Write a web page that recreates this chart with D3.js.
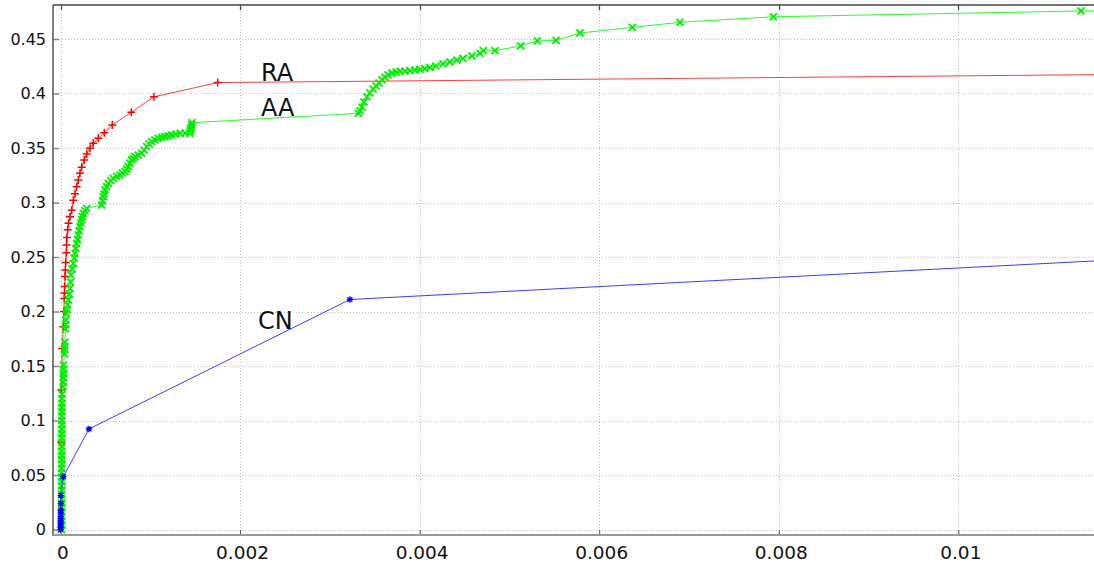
<!DOCTYPE html>
<html>
<head>
<meta charset="utf-8">
<script src="https://cdn.jsdelivr.net/npm/d3@7"></script>
<style>
  html, body { margin: 0; padding: 0; background: #fff; overflow: hidden; }
  text { font-family: "DejaVu Sans", sans-serif; }
</style>
</head>
<body>
<svg id="chart" width="1094" height="566"></svg>
<script>
// Tick values and their printed labels
const xTicks = [0, 0.002, 0.004, 0.006, 0.008, 0.01];
const xTickLabels = ["0", "0.002", "0.004", "0.006", "0.008", "0.01"];
const yTicks = [0, 0.05, 0.1, 0.15, 0.2, 0.25, 0.3, 0.35, 0.4, 0.45];
const yTickLabels = ["0", "0.05", "0.1", "0.15", "0.2", "0.25", "0.3", "0.35", "0.4", "0.45"];

// Series names
const seriesNames = ["RA", "AA", "CN"];

// RA curve: [x, y]
const raPoints = [
  [0.000006, 0.080], [0.000008, 0.128], [0.000020, 0.166], [0.000031, 0.186],
  [0.000039, 0.200], [0.000042, 0.212], [0.000044, 0.217], [0.000047, 0.223],
  [0.000050, 0.232], [0.000054, 0.238], [0.000058, 0.245], [0.000065, 0.254],
  [0.000068, 0.261], [0.000072, 0.268], [0.000080, 0.275], [0.000089, 0.281],
  [0.000106, 0.287], [0.000125, 0.293], [0.000143, 0.302], [0.000162, 0.308],
  [0.000180, 0.3145], [0.000198, 0.3206], [0.000217, 0.3268], [0.000236, 0.3323],
  [0.000265, 0.339], [0.000292, 0.3445], [0.000329, 0.3497], [0.000365, 0.3543],
  [0.000421, 0.3589], [0.000488, 0.364], [0.000577, 0.371], [0.000789, 0.3828],
  [0.001041, 0.397], [0.001751, 0.410], [0.0118, 0.4175]
];

// AA curve: [x, y]
const aaPoints = [
  [0.000012, 0.000], [0.000014, 0.004], [0.000011, 0.008], [0.000013, 0.012],
  [0.000015, 0.016], [0.000012, 0.020], [0.000014, 0.024], [0.000013, 0.028],
  [0.000011, 0.032], [0.000014, 0.036], [0.000012, 0.040], [0.000015, 0.044],
  [0.000013, 0.048], [0.000014, 0.052], [0.000012, 0.056], [0.000015, 0.060],
  [0.000013, 0.064], [0.000014, 0.068], [0.000012, 0.072], [0.000015, 0.076],
  [0.000014, 0.080], [0.000013, 0.084], [0.000015, 0.088], [0.000014, 0.092],
  [0.000016, 0.096], [0.000014, 0.100], [0.000015, 0.104], [0.000016, 0.108],
  [0.000015, 0.112], [0.000017, 0.116], [0.000016, 0.120], [0.000017, 0.124],
  [0.000030, 0.131], [0.000031, 0.135], [0.000033, 0.139], [0.000032, 0.143],
  [0.000034, 0.147], [0.000033, 0.151],
  [0.000044, 0.161], [0.000046, 0.165], [0.000047, 0.168], [0.000049, 0.172],
  [0.000056, 0.184], [0.000058, 0.188], [0.000060, 0.192],
  [0.000066, 0.198], [0.000072, 0.202], [0.000080, 0.206], [0.000087, 0.2106],
  [0.000097, 0.216], [0.000106, 0.2213], [0.000112, 0.227], [0.000117, 0.2335],
  [0.000130, 0.239], [0.000143, 0.2442], [0.000153, 0.249], [0.000162, 0.2534],
  [0.000171, 0.258], [0.000180, 0.2626], [0.000189, 0.266], [0.000198, 0.2702],
  [0.000208, 0.274], [0.000217, 0.2778], [0.000227, 0.281], [0.000236, 0.284],
  [0.000245, 0.287], [0.000254, 0.2901], [0.000272, 0.2925], [0.000292, 0.2947],
  [0.000459, 0.2977], [0.000468, 0.3015], [0.000477, 0.3053], [0.000486, 0.308],
  [0.000496, 0.3115], [0.000514, 0.3145], [0.000532, 0.3176], [0.000560, 0.320],
  [0.000588, 0.3222], [0.000625, 0.324], [0.000663, 0.3252], [0.000690, 0.327],
  [0.000718, 0.3283], [0.000737, 0.3305], [0.000755, 0.3328], [0.000774, 0.336],
  [0.000793, 0.339], [0.000812, 0.3405], [0.000830, 0.342], [0.000867, 0.3435],
  [0.000904, 0.3451], [0.000932, 0.348], [0.000960, 0.3512], [0.000988, 0.3535],
  [0.001016, 0.3558], [0.001052, 0.3575], [0.001089, 0.3589], [0.001126, 0.3597],
  [0.001164, 0.3604], [0.001200, 0.3612], [0.001239, 0.362], [0.001285, 0.3628],
  [0.001331, 0.3635], [0.001390, 0.3636], [0.001442, 0.3635], [0.001447, 0.3655],
  [0.001452, 0.3672], [0.001456, 0.369], [0.001460, 0.3712], [0.001465, 0.3732],
  [0.003317, 0.3818], [0.003336, 0.3840], [0.003358, 0.3876], [0.003380, 0.3922],
  [0.003414, 0.3968], [0.003447, 0.4005], [0.003481, 0.4041], [0.003514, 0.4069],
  [0.003548, 0.4096], [0.003581, 0.4124], [0.003615, 0.4151], [0.003648, 0.4170],
  [0.003693, 0.4188], [0.003738, 0.4197], [0.003781, 0.4202], [0.003837, 0.4206],
  [0.003893, 0.4209], [0.003949, 0.4216], [0.004004, 0.4222], [0.004059, 0.4229],
  [0.004115, 0.4240], [0.004182, 0.4252], [0.004260, 0.4271], [0.004338, 0.4289],
  [0.004416, 0.4307], [0.004483, 0.4323], [0.004583, 0.4344], [0.004672, 0.4369],
  [0.004709, 0.4393], [0.004840, 0.4393], [0.005126, 0.4436], [0.005311, 0.4482],
  [0.005519, 0.4488], [0.005786, 0.4555], [0.006369, 0.4607], [0.006900, 0.4653],
  [0.007940, 0.4704], [0.011367, 0.4757], [0.0119, 0.4762]
];

// CN curve: [x, y]
const cnPoints = [
  [0.000001, 0.000], [0.000001, 0.002], [0.000002, 0.004], [0.000002, 0.006],
  [0.000002, 0.008], [0.000002, 0.010], [0.000002, 0.012], [0.000003, 0.0154],
  [0.000003, 0.018], [0.000004, 0.024], [0.000004, 0.031], [0.000031, 0.0484],
  [0.000317, 0.0922], [0.003224, 0.2110], [0.0118, 0.2476]
];

const svg = d3.select("#chart");
const W = 1094, H = 566;

// Frame of the plotting area
const frame = { left: 53, top: 5, right: 1094, bottom: 535 };

const x = d3.scaleLinear().domain([0, 0.01]).range([60.5, 958.3]);
const y = d3.scaleLinear().domain([0, 0.45]).range([529.5, 39]);

svg.append("rect").attr("width", W).attr("height", H).attr("fill", "#fff");

svg.append("defs").append("clipPath").attr("id", "plotClip")
  .append("rect")
  .attr("x", frame.left).attr("y", frame.top)
  .attr("width", frame.right - frame.left).attr("height", frame.bottom - frame.top);

// Dotted grid
const grid = svg.append("g").attr("stroke", "#bdbdbd").attr("stroke-width", 1)
  .attr("stroke-dasharray", "1,2");
grid.selectAll("line.h").data(yTicks).join("line")
  .attr("class", "h")
  .attr("x1", frame.left).attr("x2", frame.right)
  .attr("y1", d => Math.round(y(d)) + 0.5).attr("y2", d => Math.round(y(d)) + 0.5);
grid.selectAll("line.v").data(xTicks).join("line")
  .attr("class", "v")
  .attr("x1", d => Math.round(x(d)) + 0.5).attr("x2", d => Math.round(x(d)) + 0.5)
  .attr("y1", frame.top).attr("y2", frame.bottom);

// Left axis with inward ticks
const yAxis = d3.axisLeft(y)
  .tickValues(yTicks)
  .tickFormat((d, i) => yTickLabels[i])
  .tickSizeInner(-6).tickSizeOuter(0).tickPadding(7);
const gy = svg.append("g").attr("transform", `translate(${frame.left},0)`).call(yAxis);
gy.select(".domain").remove();
gy.selectAll(".tick line").attr("stroke", "#8a8a8a").attr("stroke-width", 1.5);
gy.selectAll(".tick text").attr("fill", "#111").style("font-size", "16px")
  .style("font-family", "'DejaVu Sans', sans-serif");

// Bottom axis with inward ticks
const xAxis = d3.axisBottom(x)
  .tickValues(xTicks)
  .tickFormat((d, i) => xTickLabels[i])
  .tickSizeInner(-5).tickSizeOuter(0).tickPadding(11);
const gx = svg.append("g").attr("transform", `translate(0,${frame.bottom})`).call(xAxis);
gx.select(".domain").remove();
gx.selectAll(".tick line").attr("stroke", "#555").attr("stroke-width", 1);
gx.selectAll(".tick text").attr("fill", "#111").attr("dx", 2).style("font-size", "18.5px")
  .style("font-family", "'DejaVu Sans', sans-serif");

// Mirrored tick marks on the top border
svg.append("g").selectAll("line").data(xTicks).join("line")
  .attr("x1", d => Math.round(x(d)) + 0.5).attr("x2", d => Math.round(x(d)) + 0.5)
  .attr("y1", frame.top).attr("y2", frame.top + 5)
  .attr("stroke", "#444").attr("stroke-width", 1.2);

// Frame lines
svg.append("line").attr("x1", frame.left).attr("x2", frame.right)
  .attr("y1", frame.top).attr("y2", frame.top)
  .attr("stroke", "#444").attr("stroke-width", 1.5);
svg.append("line").attr("x1", frame.left).attr("x2", frame.left)
  .attr("y1", frame.top).attr("y2", frame.bottom + 1)
  .attr("stroke", "#555").attr("stroke-width", 1.5);
svg.append("line").attr("x1", frame.left).attr("x2", frame.right)
  .attr("y1", frame.bottom).attr("y2", frame.bottom)
  .attr("stroke", "#999").attr("stroke-width", 2);

// Marker shapes
const plusPath = "M-4,0H4M0,-4V4";
const crossPath = "M-3.5,-3.5L3.5,3.5M-3.5,3.5L3.5,-3.5";
const starPath = "M-3.2,0H3.2M0,-3.2V3.2M-2.4,-2.4L2.4,2.4M-2.4,2.4L2.4,-2.4";

const line = d3.line().x(d => x(d[0])).y(d => y(d[1]));
const plot = svg.append("g").attr("clip-path", "url(#plotClip)");

const series = [
  { name: seriesNames[0], pts: raPoints, color: "#ff0000", lineColor: "#ff3b3b", marker: plusPath, mw: 1.5 },
  { name: seriesNames[1], pts: aaPoints, color: "#00ee00", lineColor: "#22ff22", marker: crossPath, mw: 1.8 },
  { name: seriesNames[2], pts: cnPoints, color: "#0000ff", lineColor: "#3b3bff", marker: starPath, mw: 1.3 }
];

series.forEach(s => {
  const g = plot.append("g");
  g.append("path").datum(s.pts).attr("d", line)
    .attr("fill", "none").attr("stroke", s.lineColor).attr("stroke-width", 1);
  g.selectAll("path.m").data(s.pts).join("path")
    .attr("class", "m")
    .attr("d", s.marker)
    .attr("transform", d => `translate(${x(d[0])},${y(d[1])})`)
    .attr("fill", "none").attr("stroke", s.color).attr("stroke-width", s.mw);
});

// Curve labels
const labelPos = [
  { name: seriesNames[0], lx: 261, ly: 81 },
  { name: seriesNames[1], lx: 261, ly: 116 },
  { name: seriesNames[2], lx: 258, ly: 329 }
];
svg.append("g").selectAll("text").data(labelPos).join("text")
  .attr("x", d => d.lx).attr("y", d => d.ly)
  .attr("fill", "#111").style("font-size", "24px")
  .text(d => d.name);
</script>
</body>
</html>
